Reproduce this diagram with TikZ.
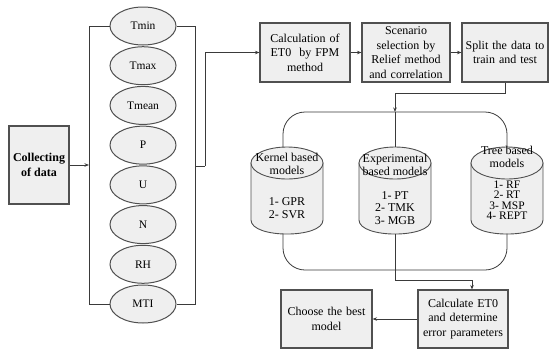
\documentclass[tikz,border=0pt]{standalone}
\usepackage{fontspec}
\setmainfont{Liberation Serif}
\usetikzlibrary{arrows.meta,shapes.geometric}
\definecolor{boxfill}{HTML}{EFEFEF}
\definecolor{linec}{HTML}{3A3A3A}
\definecolor{borderc}{HTML}{505050}
\begin{document}
\begin{tikzpicture}[x=1pt,y=-1pt,
  box/.style={draw=borderc,line width=1.1pt,fill=boxfill,rectangle,inner sep=1pt,align=center,
    font=\fontsize{12}{14.5}\selectfont},
  var/.style={draw=borderc,line width=1pt,fill=boxfill,ellipse,minimum width=66pt,minimum height=38pt,inner sep=0pt,
    font=\fontsize{11.5}{13}\selectfont},
  conn/.style={draw=linec,line width=0.8pt},
  arr/.style={conn,-{Stealth[length=4.5pt,width=3.5pt]}},
  cyltxt/.style={align=center,inner sep=0pt,font=\fontsize{12}{12.5}\selectfont},
  cylbody/.style={draw=borderc,line width=0.9pt,fill=boxfill}]
\useasboundingbox (0,0) rectangle (549,349);

% collecting
\node[box,minimum width=60pt,minimum height=78pt,line width=1.4pt,font=\bfseries\fontsize{12}{15}\selectfont] (coll) at (39,165) {Collecting\\of data};

% variables
\foreach \t [count=\i from 0] in {Tmin,Tmax,Tmean,P,U,N,RH,MTI}{
  \node[var] (e\i) at (143,{26+39.714*\i}) {\t};
}
\coordinate (lb) at (89,166);
\coordinate (rb) at (195,166);
\coordinate (rbo) at (205,166);
\draw[conn] (e0.west) -- (e0.west -| lb) -- (e7.west -| lb) -- (e7.west);
\draw[conn] (e0.east) -- (e0.east -| rb) -- (e7.east -| rb) -- (e7.east);
\draw[arr] (coll.east) -- (coll.east -| lb);

% top boxes
\node[box,minimum width=90pt,minimum height=59pt,text width=84pt] (calc) at (305,52.5) {Calculation of\\ET0 \ by FPM\\method};
\node[box,minimum width=88pt,minimum height=59pt,text width=86pt] (scen) at (406,52.5) {Scenario\\selection by\\Relief method\\and correlation};
\node[box,minimum width=86pt,minimum height=59pt,text width=84pt] (split) at (505,52.5) {Split the data to\\train and test};

\draw[conn] (rb) -- (rbo);
\draw[arr] (rbo) |- (calc.west);
\draw[arr] (calc.east) -- (scen.west);
\draw[arr] (scen.east) -- (split.west);

% cylinders: #1 centre x, #2 name, #3 connector offset
\newcommand{\mycyl}[3]{%
  \path[cylbody] ({#1-36},163) -- ({#1-36},220) .. controls ({#1-36},238.7) and ({#1+36},238.7) .. ({#1+36},220) -- ({#1+36},163) -- cycle;
  \path[cylbody] (#1,163) ellipse [x radius=36, y radius=16];
  \coordinate (#2-top) at ({#1+#3},147.3);
  \coordinate (#2-bot) at ({#1+#3},233.6);
}
\mycyl{287}{kern}{-4}
\mycyl{395}{exper}{0}
\mycyl{507}{tree}{0}

\node[cyltxt] (kernt) at (287,164) {Kernel based\\models};
\node[cyltxt] (kerni) at (287,208) {1- GPR\\2- SVR};
\node[cyltxt] (expt) at (395,165) {Experimental\\based models};
\node[cyltxt] (expi) at (395,208) {1- PT\\2- TMK\\3- MGB};
\node[cyltxt] (treet) at (507,157) {Tree based\\models};
\node[cyltxt,font=\fontsize{11.5}{10.5}\selectfont] (treei) at (507,200) {1- RF\\2- RT\\3- MSP\\4- REPT};

% connectors around cylinders
\coordinate (topmid) at (395,112);
\coordinate (botline) at (395,270);
\draw[arr] (split.south) -- ++(0,11) -| (topmid);
\draw[conn,rounded corners=22pt] (kern-top) -- (kern-top |- topmid) -- (tree-top |- topmid) -- (tree-top);
\draw[conn] (topmid) -- (exper-top);
\draw[conn,rounded corners=22pt] (kern-bot) -- (kern-bot |- botline) -- (tree-bot |- botline) -- (tree-bot);

% bottom boxes
\node[box,minimum width=91pt,minimum height=58pt,text width=86pt] (choose) at (326.5,319) {Choose the best\\model};
\node[box,minimum width=90pt,minimum height=58pt,text width=88pt] (calcet) at (463,319) {Calculate ET0\\and determine\\error parameters};
\coordinate (m2) at (395,280);
\draw[conn] (exper-bot) -- (m2);
\draw[arr] (m2) -| ([xshift=9pt]calcet.north);
\draw[arr] (calcet.west) -- (choose.east);
\end{tikzpicture}
\end{document}
